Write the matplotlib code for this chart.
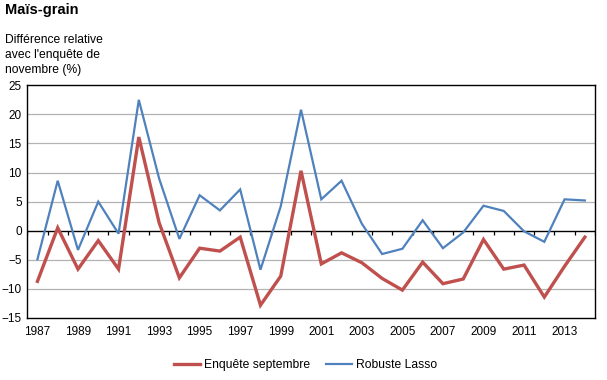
import numpy as np
import matplotlib.pyplot as plt

plt.rcParams['font.family'] = ['Liberation Sans', 'DejaVu Sans']

# Données
annees = list(range(1987, 2015))
enquete_sept = [-8.7, 0.5, -6.6, -1.7, -6.6, 16.1, 1.4, -8.1, -3.0, -3.5,
                -1.1, -12.8, -7.8, 10.3, -5.7, -3.8, -5.5, -8.2, -10.2, -5.4,
                -9.1, -8.3, -1.5, -6.6, -5.9, -11.4, -6.1, -1.1]
robuste_lasso = [-4.9, 8.6, -3.3, 5.0, -0.5, 22.5, 9.0, -1.4, 6.1, 3.5,
                 7.1, -6.7, 4.2, 20.8, 5.4, 8.6, 1.2, -4.0, -3.1, 1.8,
                 -3.0, -0.3, 4.3, 3.4, -0.1, -1.9, 5.4, 5.2]

rouge = '#C0504D'
bleu = '#4F81BD'

fig = plt.figure(figsize=(6.07, 3.80), dpi=100)
ax = fig.add_axes([27.3/607, 1-318/380, (595-27.3)/607, (318-85.3)/380])

x = np.arange(len(annees))
l1, = ax.plot(x, enquete_sept, color=rouge, lw=2.4, label='Enquête septembre', solid_joinstyle='miter')
l2, = ax.plot(x, robuste_lasso, color=bleu, lw=1.6, label='Robuste Lasso', solid_joinstyle='miter')

ax.set_xlim(-0.5, len(annees) - 0.5)
ax.set_ylim(-15, 25)
ax.set_yticks(np.arange(-15, 26, 5))
for v in range(-10, 25, 5):
    if v != 0:
        ax.axhline(v, color='#B3B3B3', lw=0.9, zorder=0)
ax.axhline(0, color='black', lw=1.0, zorder=1)
# graduations de l'axe des catégories (sur la ligne zéro)
ax.vlines(np.arange(len(annees) + 1) - 0.5, -0.7, 0, color='black', lw=0.9, zorder=1)

ax.set_xticks(x[::2])
ax.set_xticklabels([str(a) for a in annees[::2]])
ax.tick_params(axis='both', length=0, labelsize=8.5, pad=4)
ax.tick_params(axis='x', pad=6)
for s in ax.spines.values():
    s.set_color('black')
    s.set_linewidth(1.0)

fig.text(5/607, 1-3/380, 'Maïs-grain', fontsize=10.5, fontweight='bold', va='top', ha='left')
fig.text(5/607, 1-34/380, "Différence relative\navec l'enquête de\nnovembre (%)",
         fontsize=8.7, va='top', ha='left', linespacing=1.35)

fig.legend(handles=[l1, l2], loc='center', bbox_to_anchor=(0.503, 1-365/380), ncol=2,
           frameon=False, fontsize=8.7, handlelength=2.2, handletextpad=0.3, columnspacing=1.3)

fig.savefig('out.png', dpi=100)
